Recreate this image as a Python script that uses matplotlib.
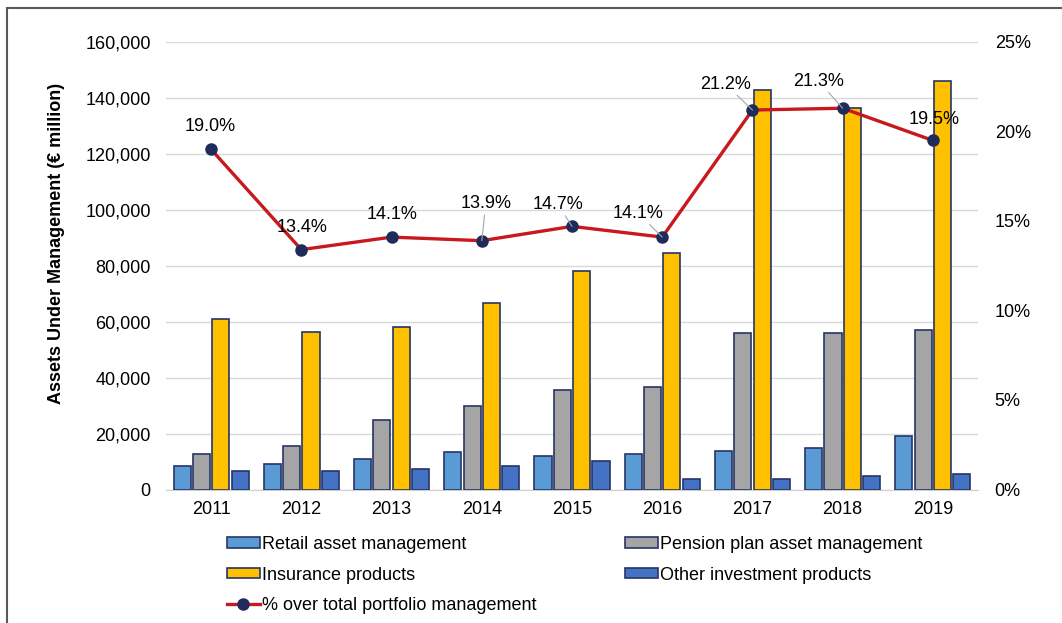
import numpy as np
import matplotlib
matplotlib.use("Agg")
import matplotlib.pyplot as plt
from matplotlib.patches import Rectangle
from matplotlib.ticker import FuncFormatter

plt.rcParams['font.family'] = ['Liberation Sans', 'DejaVu Sans']

# =========================
# Data
# =========================
years = [2011, 2012, 2013, 2014, 2015, 2016, 2017, 2018, 2019]
retail = [8400, 9000, 10800, 13300, 12000, 12600, 13800, 15000, 19100]
pension = [12600, 15500, 25000, 29800, 35600, 36700, 56000, 56000, 57000]
insurance = [60800, 56400, 58200, 66700, 78200, 84600, 143000, 136400, 146000]
other = [6700, 6700, 7200, 8400, 10200, 3700, 3700, 4900, 5400]
pct_total = [19.0, 13.4, 14.1, 13.9, 14.7, 14.1, 21.2, 21.3, 19.5]

series_names = ['Retail asset management', 'Pension plan asset management',
                'Insurance products', 'Other investment products']
line_name = '% over total portfolio management'

# =========================
# Style
# =========================
bar_colors = ['#5B9BD5', '#A5A5A5', '#FFC000', '#4472C4']
edge_col = '#263566'
line_col = '#C8191F'
marker_col = '#1F2B5B'
grid_col = '#D9D9D9'
fs = 13

# label offsets in pixels (dx, dy) and whether a leader line is drawn
label_offsets = [(-1, 23), (1, 22), (1, 23), (4, 37), (-14, 22),
                 (-24, 24), (-27, 26), (-24, 27), (1, 21)]
leader = [False, False, False, True, True, True, True, True, False]

# =========================
# Plot
# =========================
fig = plt.figure(figsize=(10.62, 6.23), dpi=100)
ax = fig.add_axes([166 / 1062, 1 - 489.5 / 623, (978 - 166) / 1062, (489.5 - 42) / 623])
ax2 = ax.twinx()

x = np.arange(len(years))
step = 0.214
width = 0.19
all_series = [retail, pension, insurance, other]
handles = []
for i, vals in enumerate(all_series):
    h = ax.bar(x + (i - 1.5) * step, vals, width=width, color=bar_colors[i],
               edgecolor=edge_col, linewidth=1.2, label=series_names[i], zorder=3)
    handles.append(h)

ax.set_xlim(-0.5, len(years) - 0.5)
ax.set_ylim(0, 160000)
ax.set_yticks(np.arange(0, 160001, 20000))
ax.yaxis.set_major_formatter(FuncFormatter(lambda v, p: f"{int(v):,}"))
ax.set_xticks(x)
ax.set_xticklabels([str(y) for y in years])
ax.grid(axis='y', color=grid_col, linewidth=1.0, zorder=0)
ax.set_axisbelow(True)
ax.tick_params(axis='both', length=0, labelsize=fs)
ax.tick_params(axis='y', pad=11)
ax.tick_params(axis='x', pad=8)
for s in ['top', 'right', 'left']:
    ax.spines[s].set_visible(False)
ax.spines['bottom'].set_color('#CFCFCF')

# y label sits a bit above the axes centre in the reference
fig.text(57 / 1062, 1 - 243 / 623, 'Assets Under Management (€ million)',
         rotation=90, ha='center', va='center', fontsize=13, fontweight='bold')

ln, = ax2.plot(x, pct_total, color=line_col, linewidth=2.4, marker='o',
               markersize=8, markerfacecolor=marker_col, markeredgecolor=marker_col,
               label=line_name, zorder=4)
ax2.set_ylim(0, 25)
ax2.set_yticks(np.arange(0, 26, 5))
ax2.yaxis.set_major_formatter(FuncFormatter(lambda v, p: f"{int(v)}%"))
ax2.tick_params(axis='y', length=0, labelsize=fs, pad=12)
for s in ['top', 'right', 'left', 'bottom']:
    ax2.spines[s].set_visible(False)

for i, v in enumerate(pct_total):
    dx, dy = label_offsets[i]
    kw = {}
    if leader[i]:
        kw['arrowprops'] = dict(arrowstyle='-', color='#A6A6A6', lw=0.8,
                                shrinkA=0, shrinkB=0)
    ax2.annotate(f"{v:.1f}%", xy=(x[i], v), xytext=(dx, dy),
                 textcoords='offset pixels', ha='center', va='center',
                 fontsize=fs, zorder=5, **kw)

# legend, filled row-wise
leg_handles = [handles[0], handles[2], ln, handles[1], handles[3]]
leg_labels = [series_names[0], series_names[2], line_name, series_names[1], series_names[3]]
fig.legend(leg_handles, leg_labels, loc='upper left', bbox_to_anchor=(227 / 1062, 1 - 536 / 623),
           ncol=2, frameon=False, fontsize=fs, borderpad=0, borderaxespad=0,
           handlelength=1.8, handleheight=0.5, handletextpad=0.15,
           columnspacing=4.9, labelspacing=0.75)

# outer frame (extends past the right/bottom edges)
fig.patches.append(Rectangle((7 / 1062, -0.2), 1.3, 1.2 - 8 / 623,
                             transform=fig.transFigure, fill=False,
                             edgecolor='#595959', linewidth=1.5))

plt.savefig("out.png", dpi=100)
plt.close()
